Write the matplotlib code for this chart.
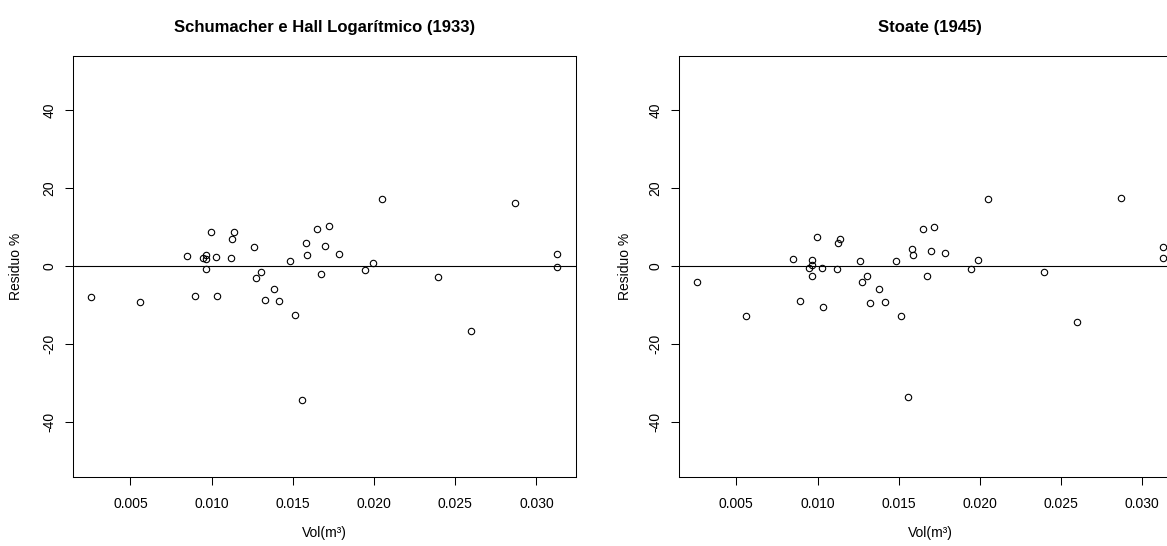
import matplotlib
matplotlib.use("Agg")
import matplotlib.pyplot as plt

# Tree volume (m³), shared by both models
vol = [0.00259, 0.00561, 0.00849, 0.00895, 0.00946, 0.00963, 0.00966, 0.00966,
       0.00998, 0.01027, 0.01031, 0.01118, 0.01123, 0.01136, 0.01262, 0.01271,
       0.01304, 0.01326, 0.01381, 0.01417, 0.01485, 0.01513, 0.01556, 0.01584,
       0.01587, 0.01651, 0.01672, 0.01696, 0.01720, 0.01784, 0.01943, 0.01991,
       0.02051, 0.02394, 0.02597, 0.02868, 0.03125, 0.03128]

# Residuals (%) per model
res_schumacher = [-7.9, -9.3, 2.5, -7.7, 2.1, 2.8, 1.7, -0.7, 8.6, 2.3, -7.7, 2.1,
                  6.8, 8.6, 4.8, -3.2, -1.5, -8.8, -5.9, -9.0, 1.4, -12.5, -34.3,
                  5.9, 2.7, 9.6, -2.1, 5.2, 10.3, 3.0, -1.1, 0.7, 17.1, -2.7,
                  -16.7, 16.2, -0.3, 3.0]
res_stoate = [-4.0, -12.9, 1.9, -9.1, -0.4, -2.5, 1.5, 0.3, 7.5, -0.4, -10.6, -0.7,
              5.9, 6.8, 1.2, -4.1, -2.5, -9.5, -5.9, -9.3, 1.2, -12.9, -33.6,
              4.4, 2.7, 9.6, -2.5, 3.9, 10.0, 3.3, -0.8, 1.5, 17.3, -1.5,
              -14.3, 17.5, 2.1, 5.0]

titles = ["Schumacher e Hall Logarítmico (1933)", "Stoate (1945)"]
x_ticks = [0.005, 0.010, 0.015, 0.020, 0.025, 0.030]
y_ticks = [-40, -20, 0, 20, 40]

plt.rcParams.update({
    "font.family": ["Liberation Sans", "DejaVu Sans"],
    "font.size": 10,
})

W, H = 1167, 546
fig = plt.figure(figsize=(W / 100, H / 100), dpi=100)

# axes boxes in pixels: (left, top, right, bottom) -- right panel runs off the edge
boxes = [(72.7, 55.5, 575.8, 476.5), (678.6, 55.5, 1181.7, 476.5)]
ylab_x = [23, 632]

# R-style 4% padding on the x range
span = max(vol) - min(vol)
xlim = (min(vol) - 0.04 * span, max(vol) + 0.04 * span)

for (l, t, r, b), title, res, yx in zip(boxes, titles,
                                        [res_schumacher, res_stoate], ylab_x):
    ax = fig.add_axes([l / W, (H - b) / H, (r - l) / W, (b - t) / H])
    ax.axhline(0, color="black", lw=0.8, zorder=1)
    ax.plot(vol, res, "o", mfc="none", mec="black", ms=4.6, mew=0.8, zorder=3)

    ax.set_xlim(*xlim)
    ax.set_ylim(-54, 54)
    ax.set_xticks(x_ticks)
    ax.set_xticklabels([f"{v:.3f}" for v in x_ticks])
    ax.set_yticks(y_ticks)
    ax.set_yticklabels([str(v) for v in y_ticks])
    ax.tick_params(axis="both", direction="out", length=5.8, width=0.75,
                   labelsize=10, color="black")
    ax.tick_params(axis="x", pad=9)
    ax.tick_params(axis="y", pad=6, labelrotation=90)
    plt.setp(ax.get_yticklabels(), va="center")
    for s in ax.spines.values():
        s.set_linewidth(0.75)

    ax.set_title(title, fontweight="bold", fontsize=12, pad=17)
    ax.set_xlabel("Vol(m³)", fontsize=10)
    ax.xaxis.set_label_coords(0.5, -(526 - b) / (b - t))
    ax.set_ylabel("Residuo %", fontsize=10)
    ax.yaxis.set_label_coords((yx - l) / (r - l), 0.5)

fig.savefig("out.png", dpi=100)
